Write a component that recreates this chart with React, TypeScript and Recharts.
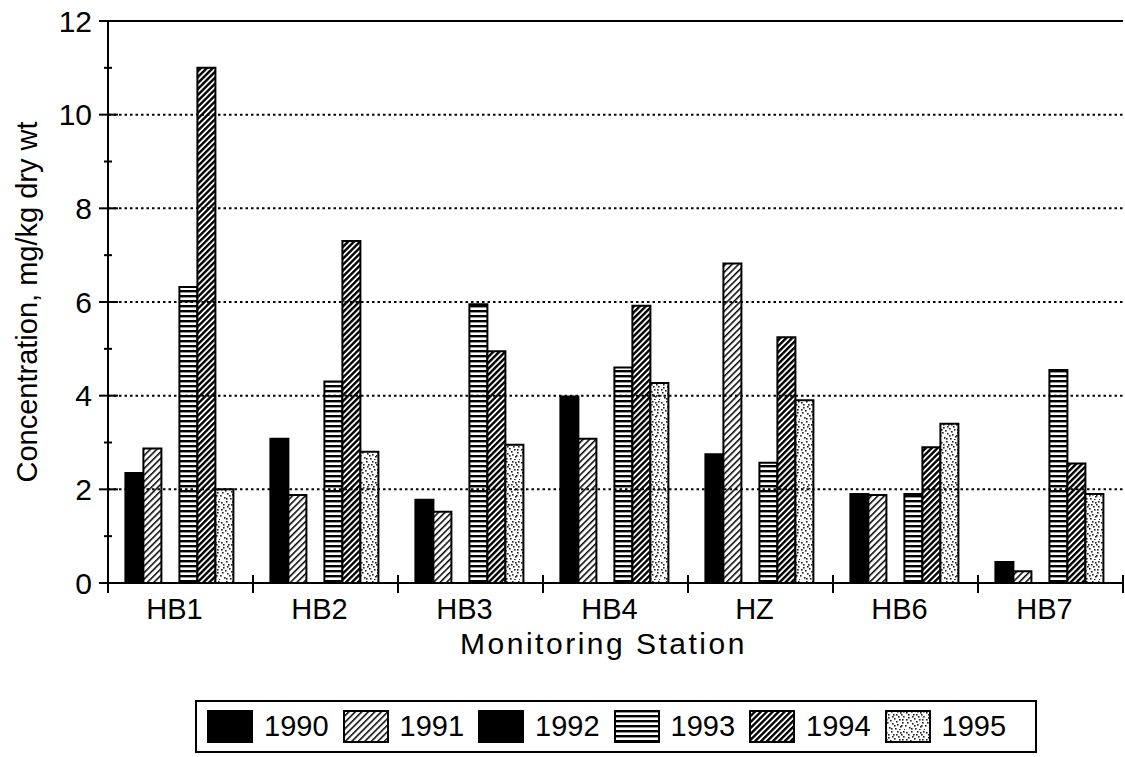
import React from 'react';
import {
  BarChart,
  Bar,
  XAxis,
  YAxis,
  ReferenceLine,
  Legend,
} from 'recharts';

const stations = ['HB1', 'HB2', 'HB3', 'HB4', 'HZ', 'HB6', 'HB7'];
const years = ['1990', '1991', '1992', '1993', '1994', '1995'];

const y1990 = [2.35, 3.08, 1.78, 3.98, 2.75, 1.9, 0.45];
const y1991 = [2.87, 1.88, 1.52, 3.08, 6.82, 1.88, 0.25];
const y1992: (number | null)[] = [null, null, null, null, null, null, null];
const y1993 = [6.32, 4.3, 5.95, 4.6, 2.57, 1.9, 4.55];
const y1994 = [11.0, 7.3, 4.95, 5.92, 5.25, 2.9, 2.55];
const y1995 = [2.0, 2.8, 2.95, 4.27, 3.9, 3.4, 1.9];

const yTicks = [0, 1, 2, 3, 4, 5, 6, 7, 8, 9, 10, 11, 12];
const gridValues = [2, 4, 6, 8, 10];

const seriesValues = [y1990, y1991, y1992, y1993, y1994, y1995];
const data = stations.map((s, i) => {
  const row: Record<string, string | number | null> = { station: s };
  years.forEach((yr, k) => {
    row[yr] = seriesValues[k][i];
  });
  return row;
});

const fills: Record<string, string> = {
  '1990': '#000',
  '1991': 'url(#p1991)',
  '1992': '#000',
  '1993': 'url(#p1993)',
  '1994': 'url(#p1994)',
  '1995': 'url(#p1995)',
};

const FONT = '"Liberation Sans", Arial, Helvetica, sans-serif';
const BAND = 145;

// stipple dots for the 1995 fill
const dots = [
  [1, 2], [6, 1], [11, 4], [15, 2], [3, 7], [9, 8], [14, 9], [18, 6],
  [2, 12], [7, 13], [12, 14], [17, 12], [4, 17], [10, 18], [15, 16], [19, 19],
  [8, 4], [5, 10], [13, 6], [16, 15], [0, 15], [11, 11], [18, 1], [6, 18],
  [3, 4], [14, 19], [9, 15], [17, 9], [7, 6], [12, 1], [1, 9], [16, 4],
];

const YTick = (props: any) => {
  const { x, y, payload } = props;
  const major = payload.value % 2 === 0;
  return (
    <g>
      <line x1={x - (major ? 9 : 4)} x2={x + (major ? 10 : 4)} y1={y} y2={y} stroke="#000" strokeWidth={2} />
      {major && (
        <text x={x - 16} y={y} dy="0.36em" textAnchor="end" fontSize={30} fontFamily={FONT} fill="#000">
          {payload.value}
        </text>
      )}
    </g>
  );
};

const XTick = (props: any) => {
  const { x, y, payload, index } = props;
  const left = x - BAND / 2;
  return (
    <g>
      <line x1={left} x2={left} y1={y - 8} y2={y + 10} stroke="#000" strokeWidth={2} />
      {index === stations.length - 1 && (
        <line x1={x + BAND / 2} x2={x + BAND / 2} y1={y - 8} y2={y + 10} stroke="#000" strokeWidth={2} />
      )}
      <text x={x - 6} y={y + 36} textAnchor="middle" fontSize={29} fontFamily={FONT} fill="#000">
        {payload.value}
      </text>
    </g>
  );
};

const LegendBox = (props: any) => {
  const { payload } = props;
  return (
    <div
      style={{
        boxSizing: 'border-box',
        width: '100%',
        height: '100%',
        border: '2px solid #000',
        display: 'flex',
        alignItems: 'center',
        paddingLeft: 10,
        fontFamily: FONT,
        fontSize: 29,
        color: '#000',
      }}
    >
      {payload.map((entry: any) => (
        <div key={entry.value} style={{ display: 'flex', alignItems: 'center', marginRight: 14 }}>
          <svg width={46} height={33} style={{ display: 'block' }}>
            <rect x={1} y={1} width={44} height={31} fill={entry.color} stroke="#000" strokeWidth={2} />
          </svg>
          <span style={{ marginLeft: 11, lineHeight: '33px' }}>{entry.value}</span>
        </div>
      ))}
    </div>
  );
};

export default function App() {
  return (
    <div style={{ position: 'absolute', left: 0, top: 0, width: 1125, height: 757, background: '#fff', fontFamily: FONT }}>
      <BarChart
        width={1125}
        height={757}
        data={data}
        margin={{ top: 21, right: 2, left: 0, bottom: 100 }}
        barCategoryGap="12%"
        barGap={0}
      >
        <defs>
          <pattern id="p1991" patternUnits="userSpaceOnUse" width={4.6} height={10} patternTransform="rotate(45)">
            <rect width={4.6} height={10} fill="#fff" />
            <rect width={1.5} height={10} fill="#000" />
          </pattern>
          <pattern id="p1994" patternUnits="userSpaceOnUse" width={4.2} height={10} patternTransform="rotate(45)">
            <rect width={4.2} height={10} fill="#fff" />
            <rect width={2.4} height={10} fill="#000" />
          </pattern>
          <pattern id="p1993" patternUnits="userSpaceOnUse" width={10} height={5}>
            <rect width={10} height={5} fill="#fff" />
            <rect width={10} height={2.4} fill="#000" />
          </pattern>
          <pattern id="p1995" patternUnits="userSpaceOnUse" width={20} height={20}>
            <rect width={20} height={20} fill="#fff" />
            {dots.map(([dx, dy], i) => (
              <rect key={i} x={dx} y={dy} width={1.6} height={1.6} fill="#222" />
            ))}
          </pattern>
        </defs>
        {gridValues.map((v) => (
          <ReferenceLine key={v} y={v} stroke="#000" strokeWidth={2} strokeDasharray="2.5 3" />
        ))}
        <ReferenceLine y={12} stroke="#000" strokeWidth={2} />
        <XAxis
          dataKey="station"
          height={74}
          tickSize={0}
          tickMargin={0}
          tickLine={false}
          axisLine={{ stroke: '#000', strokeWidth: 2 }}
          tick={<XTick />}
          interval={0}
          label={{
            value: 'Monitoring Station',
            position: 'insideBottom',
            offset: 3,
            dx: -12,
            style: { fontSize: 30, fontFamily: FONT, fill: '#000', letterSpacing: 2.5 },
          }}
        />
        <YAxis
          type="number"
          domain={[0, 12]}
          ticks={yTicks}
          interval={0}
          width={108}
          tickSize={0}
          tickMargin={0}
          tickLine={false}
          axisLine={{ stroke: '#000', strokeWidth: 2 }}
          tick={<YTick />}
          label={{
            value: 'Concentration, mg/kg dry wt',
            angle: -90,
            position: 'insideLeft',
            offset: 27,
            style: { textAnchor: 'middle', fontSize: 29, fontFamily: FONT, fill: '#000' },
          }}
        />
        <Legend
          layout="horizontal"
          align="center"
          verticalAlign="middle"
          content={<LegendBox />}
          wrapperStyle={{ left: 195, top: 700, width: 842, height: 53 }}
        />
        {years.map((yr) => (
          <Bar
            key={yr}
            dataKey={yr}
            name={yr}
            fill={fills[yr]}
            stroke="#000"
            strokeWidth={2}
            isAnimationActive={false}
          />
        ))}
      </BarChart>
    </div>
  );
}
